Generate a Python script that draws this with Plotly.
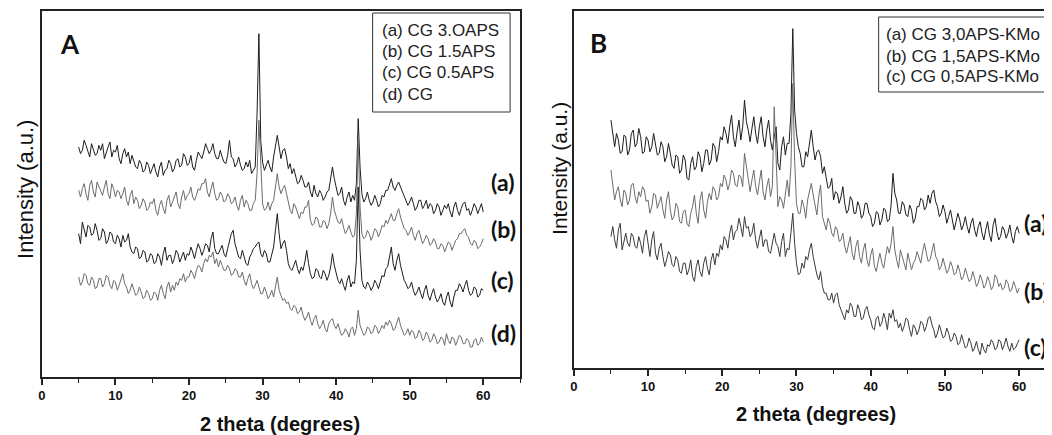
import plotly.graph_objects as go

# 2-theta sampling grid (degrees), 5 .. 60 in 0.25 steps
two_theta = [5 + 0.25 * i for i in range(221)]

# ---------------- Panel A (arbitrary intensity units) ----------------
A_a = [760,740,750,780,765,745,730,770,755,735,740,765,750,770,725,745,760,775,730,750,
       745,765,725,710,740,755,730,745,710,735,720,700,695,720,710,685,690,715,705,680,
       695,710,685,670,700,715,675,690,695,720,710,685,695,720,725,700,705,740,730,705,
       710,735,700,690,720,745,735,725,745,770,755,740,750,770,740,725,725,750,730,715,
       710,735,780,730,725,700,710,730,705,690,695,715,700,720,680,690,700,860,1100,780,
       715,690,705,720,700,685,730,770,795,760,725,750,755,730,695,710,680,695,670,650,
       655,675,660,640,640,655,625,610,645,620,610,630,620,600,610,625,630,660,700,665,
       640,615,620,640,600,585,610,625,595,615,600,650,845,700,620,595,605,625,600,585,
       595,615,600,580,590,615,610,630,630,650,665,640,630,645,655,640,625,610,600,585,
       595,610,590,570,580,600,600,575,585,600,575,590,585,560,570,590,580,555,570,585,
       575,590,565,550,580,595,570,555,575,590,595,570,575,555,570,590,580,560,575,590,
       565]
A_b = [630,610,635,650,620,600,645,660,625,610,655,640,630,615,640,660,620,605,650,635,
       610,630,625,605,620,640,600,585,615,630,590,610,600,575,585,605,595,570,575,595,
       590,605,570,555,585,600,575,560,600,615,580,595,605,625,590,575,610,630,600,615,
       620,640,610,600,615,635,630,650,650,665,625,610,635,655,620,600,605,625,615,595,
       600,620,610,590,595,610,585,570,600,615,580,600,590,570,570,590,600,680,840,700,
       590,570,575,595,570,590,600,640,680,640,620,635,645,620,590,570,560,590,580,560,
       545,565,560,580,580,600,540,525,530,550,545,520,520,540,535,515,530,560,610,570,
       550,535,530,545,520,500,510,525,505,490,495,560,780,580,500,485,490,510,500,480,
       495,515,510,490,505,525,520,540,530,545,560,540,540,560,575,550,530,515,510,495,
       505,520,495,480,500,510,490,470,480,495,485,465,470,485,475,455,455,470,465,445,
       460,475,470,450,465,480,485,500,500,510,515,495,490,470,465,480,475,455,460,470,
       485]
A_c = [500,470,535,510,490,525,520,495,500,530,510,480,485,515,505,470,480,505,500,475,
       470,495,485,460,495,475,480,500,460,445,440,460,455,425,430,450,445,415,420,440,
       435,410,415,440,430,405,440,460,420,435,435,410,425,450,440,415,430,445,420,440,
       435,460,445,425,450,470,455,435,450,470,465,445,485,505,455,440,440,455,465,440,
       430,455,480,500,510,470,450,430,425,450,430,410,405,430,440,455,460,470,475,440,
       430,450,440,415,415,440,460,510,560,500,455,470,480,450,410,395,390,405,420,395,
       380,400,390,415,450,410,380,365,370,395,390,370,365,390,380,360,375,400,440,405,
       380,360,350,365,345,330,360,375,340,355,350,420,640,450,360,340,335,355,345,330,
       340,360,350,335,355,375,370,395,400,430,460,410,390,420,440,405,380,360,350,335,
       340,355,330,315,325,340,320,305,330,345,315,300,320,335,310,295,305,320,295,285,
       310,325,295,280,310,330,330,350,340,325,345,360,330,315,320,340,335,310,315,335,
       330]
A_d = [370,345,355,380,375,350,345,370,360,335,340,365,365,340,350,375,370,345,335,360,
       355,330,345,365,380,350,340,320,330,350,335,315,320,340,325,305,310,330,320,300,
       305,325,320,300,330,345,320,305,340,355,325,345,330,355,345,365,360,380,355,370,
       370,390,380,365,390,405,400,385,410,425,415,435,430,445,410,425,400,420,405,390,
       390,405,395,375,380,395,390,370,370,385,360,345,365,380,350,335,345,360,340,320,
       320,340,325,305,315,330,310,340,370,330,315,300,305,290,295,275,270,285,280,260,
       265,280,255,240,250,265,240,225,245,255,230,215,225,240,215,205,230,240,245,225,
       215,230,210,195,200,215,205,190,215,220,195,215,270,225,210,195,200,220,215,200,
       205,225,220,200,210,225,215,235,225,240,230,210,215,235,250,225,210,195,200,215,
       195,210,205,185,190,210,200,180,185,205,195,175,180,200,190,170,175,190,185,165,
       200,180,170,190,185,165,180,195,190,170,170,185,180,160,160,180,185,165,170,190,
       175]

# ---------------- Panel B ----------------
B_a = [840,790,760,800,780,740,745,795,790,735,750,800,810,760,770,815,790,740,745,790,
       780,745,760,800,770,735,740,775,760,715,730,770,740,705,695,735,730,680,690,735,
       720,665,660,710,730,690,700,745,730,685,710,750,750,705,720,770,760,715,745,790,
       780,820,800,770,820,855,790,760,805,840,780,820,900,835,810,775,815,850,800,770,
       820,850,790,760,810,840,780,750,790,820,710,690,760,790,735,770,770,860,1115,870,
       800,760,740,700,700,745,730,770,810,760,720,745,750,730,680,700,670,635,640,665,
       600,625,620,590,610,640,590,560,570,610,600,560,560,595,580,545,555,590,590,560,
       550,520,530,565,560,525,540,575,570,535,540,585,680,620,600,560,560,595,585,555,
       550,585,570,530,545,580,580,605,600,570,580,615,590,620,630,595,580,550,560,585,
       565,530,550,570,540,510,535,560,540,510,525,550,520,500,530,545,510,490,520,535,
       500,480,510,535,495,475,525,545,505,480,490,520,510,485,500,525,490,470,505,520,
       500]
B_b = [690,640,600,625,640,600,580,630,620,585,600,645,650,610,590,625,610,640,630,595,
       600,560,580,620,615,575,590,610,570,545,600,625,570,540,550,590,580,535,530,565,
       570,530,520,560,580,615,560,530,600,625,570,545,595,620,600,640,630,600,610,650,
       640,675,660,630,650,690,680,645,640,675,670,640,740,700,650,625,660,690,640,615,
       655,690,625,600,640,665,610,640,880,720,580,610,600,575,620,660,610,700,950,720,
       590,560,560,600,580,545,600,625,650,615,580,555,610,645,550,530,510,545,530,500,
       490,520,510,475,480,500,460,440,470,490,440,420,460,480,430,410,450,470,420,400,
       435,455,400,385,415,440,410,395,430,460,440,470,520,450,420,395,450,430,410,390,
       440,415,390,410,420,445,430,410,445,470,440,415,420,450,470,430,420,390,400,425,
       405,380,390,415,400,375,380,405,385,360,370,395,375,355,360,385,365,340,350,375,
       360,335,345,370,355,330,340,375,365,340,350,330,335,360,350,325,330,355,340,320,
       335]
B_c = [490,520,480,455,510,530,450,480,500,470,460,500,490,460,455,490,470,440,490,510,
       460,430,480,505,440,420,455,470,430,400,420,445,435,405,400,430,420,385,380,410,
       410,375,390,420,370,355,400,420,385,370,410,430,395,375,420,440,405,440,430,465,
       450,490,480,455,500,525,480,505,510,545,520,490,550,515,520,490,500,530,480,455,
       485,510,460,480,480,445,440,475,500,470,460,430,475,500,430,455,450,500,560,470,
       410,375,380,410,395,430,420,450,470,430,400,375,360,385,340,320,320,300,300,320,
       290,315,320,285,270,255,240,270,260,290,280,250,250,285,270,240,245,270,280,255,
       240,215,210,245,250,220,230,260,240,210,260,245,270,235,240,215,230,205,220,245,
       240,210,190,225,215,195,210,235,230,205,220,245,250,225,210,185,200,225,205,185,
       190,215,200,175,180,200,190,165,170,195,175,155,160,185,170,145,155,175,150,135,
       170,150,140,165,160,180,170,150,155,180,175,150,165,185,160,145,170,150,155,170,
       180]

legend_A = ["(a) CG 3.OAPS", "(b) CG 1.5APS", "(c) CG 0.5APS", "(d) CG"]
legend_B = ["(a) CG 3,0APS-KMo", "(b) CG 1,5APS-KMo", "(c) CG 0,5APS-KMo"]
curve_tags_A = ["(a)", "(b)", "(c)", "(d)"]
curve_tags_B = ["(a)", "(b)", "(c)"]
x_ticks = [0, 10, 20, 30, 40, 50, 60]

# The page body has an 8 px margin: lay out in screen pixels, shifted by it.
OFF = 8
W, H = 1052 - OFF, 435 - OFF
def fx(p): return (p - OFF) / W
def fy(p): return 1 - (p - OFF) / H

DARK = "#1c1c1c"
GRAY = "#6c6c6c"

fig = go.Figure()
for ys, col in zip([A_a, A_b, A_c, A_d], [DARK, GRAY, DARK, GRAY]):
    fig.add_trace(go.Scatter(x=two_theta, y=ys, mode="lines", xaxis="x", yaxis="y",
                             line=dict(color=col, width=1), showlegend=False, hoverinfo="skip"))
for ys, col in zip([B_a, B_b, B_c], [DARK, GRAY, "#3a3a3a"]):
    fig.add_trace(go.Scatter(x=two_theta, y=ys, mode="lines", xaxis="x2", yaxis="y2",
                             line=dict(color=col, width=1), showlegend=False, hoverinfo="skip"))

tickfont = dict(family="Liberation Sans, Arial", size=13, color="#111", weight="bold")
common_x = dict(showline=True, linecolor="#222", linewidth=1.5, ticks="outside", ticklen=6,
                tickwidth=1.5, tickcolor="#222", tickvals=x_ticks, showgrid=False, zeroline=False,
                tickfont=tickfont,
                minor=dict(ticks="outside", dtick=5, tick0=0, ticklen=4, tickwidth=1.2,
                           tickcolor="#222", showgrid=False))
common_y = dict(showline=True, linecolor="#222", linewidth=1.5, ticks="", showticklabels=False,
                showgrid=False, zeroline=False)

fig.update_layout(
    width=W, height=H, margin=dict(l=0, r=0, t=0, b=0),
    paper_bgcolor="white", plot_bgcolor="white", showlegend=False,
    xaxis=dict(domain=[fx(38), fx(518)], range=[0, 65], anchor="y", mirror=True, **common_x),
    yaxis=dict(domain=[fy(377), fy(11)], range=[70, 1168], anchor="x", mirror=True, **common_y),
    xaxis2=dict(domain=[fx(572), 1.0], range=[0, 480 / 7.45], anchor="y2", mirror=True, **common_x),
    yaxis2=dict(domain=[fy(368), fy(11)], range=[95, 1168], anchor="x2", mirror=False, **common_y),
)

ann = []
def text(x, y, s, size, bold=False, family="Liberation Sans, Arial", xanchor="center",
         angle=0, color="#111"):
    ann.append(dict(x=fx(x), y=fy(y), xref="paper", yref="paper", text=s, showarrow=False,
                    xanchor=xanchor, yanchor="middle", textangle=angle,
                    font=dict(family=family, size=size, color=color,
                              weight="bold" if bold else "normal")))

# axis titles
text(277, 424, "2 theta (degrees)", 20, bold=True)
text(815, 414, "2 theta (degrees)", 20, bold=True)
text(21, 189, "Intensity (a.u.)", 22, angle=-90)
text(557, 168, "Intensity (a.u.)", 21, angle=-90)

# panel letters
text(66, 44, "A", 26, bold=True, family="Lato")
text(597, 43, "B", 26, bold=True, family="Lato")

# curve tags
for s, y in zip(curve_tags_A, [182, 229, 280, 333]):
    text(487, y, s, 23, bold=True, family="Lato", xanchor="left")
for s, y in zip(curve_tags_B, [223, 291, 347]):
    text(1022, y, s, 23, bold=True, family="Lato", xanchor="left")

# legend boxes
for s, y in zip(legend_A, [30, 51.5, 73, 94.5]):
    text(377, y, s, 17, xanchor="left", color="#222")
for s, y in zip(legend_B, [35, 56, 76.5]):
    text(883, y, s, 17, xanchor="left", color="#222")

shapes = [
    dict(type="rect", xref="paper", yref="paper", x0=fx(370), x1=fx(508), y0=fy(112), y1=fy(13),
         line=dict(color="#333", width=1)),
    dict(type="rect", xref="paper", yref="paper", x0=fx(878), x1=fx(1047), y0=fy(92), y1=fy(17),
         line=dict(color="#333", width=1)),
]
fig.update_layout(annotations=ann, shapes=shapes)

fig.write_html("out.html")
